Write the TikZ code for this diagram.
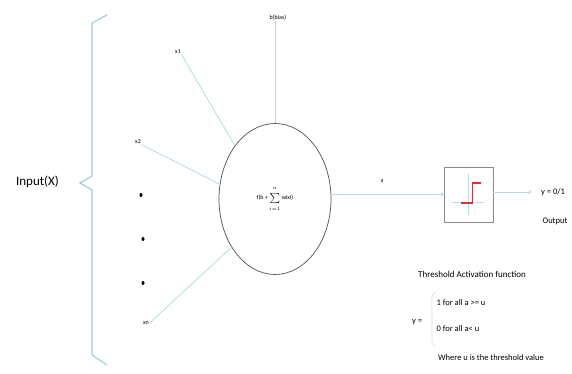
\documentclass[tikz,border=0pt]{standalone}
\usepackage{fontspec}
\setmainfont{Carlito}
\usetikzlibrary{shapes.geometric,arrows.meta}
\definecolor{bracecol}{HTML}{9FCFDC}
\definecolor{conn}{HTML}{B5DDE5}
\definecolor{ellcol}{HTML}{505050}
\definecolor{stepred}{HTML}{E0303C}
\definecolor{boxcol}{HTML}{8A8A8A}
\tikzset{
  lbl/.style={font=\fontsize{6}{7}\selectfont, inner sep=0.5pt},
  txt/.style={font=\fontsize{8.5}{10}\selectfont, inner sep=0.5pt},
  connector/.style={draw=conn, line width=0.8pt},
  arrowconn/.style={connector, -{To[length=3pt,width=4.5pt]}},
  neuron/.style={ellipse, draw=ellcol, line width=0.7pt, minimum width=112pt, minimum height=151pt, inner sep=0pt, font=\fontsize{6}{7}\selectfont},
  actbox/.style={draw=boxcol, line width=0.8pt, minimum width=49pt, minimum height=55pt, inner sep=0pt},
  idot/.style={ellipse, fill=black, inner sep=0pt, minimum width=3pt, minimum height=4pt},
  bracestyle/.style={draw=bracecol, line width=1.2pt, line join=miter},
}
\begin{document}
\begin{tikzpicture}[x=1pt,y=-1pt]
\fill[white] (0,0) rectangle (572,374);
\useasboundingbox (0,0) rectangle (572,374);

% input brace
\draw[bracestyle] (107,15) -- (92,23) -- (92,176) -- (80,183) -- (92,190) -- (92,355) -- (107,365);
\node[font=\fontsize{13}{15}\selectfont, inner sep=0pt] (inp) at (37.5,182) {Input(X)};

% neuron
\node[neuron] (e) at (275,199) {f(b + $\sum\limits_{\raisebox{-1.5pt}{$\scriptscriptstyle i=1$}}^{\raisebox{1.5pt}{$\scriptscriptstyle n$}}$ wixi)};

% inputs
\node[lbl] (b) at (278,18) {b(bias)};
\node[lbl] (x1) at (178,52) {x1};
\node[lbl] (x2) at (138,142) {x2};
\node[lbl] (xn) at (146,323) {xn};
\node[idot] (d1) at (141,195) {};
\node[idot] (d2) at (143,239) {};
\node[idot] (d3) at (143,283) {};

\draw[connector] (b.south -| e.north) -- (e.north);
\draw[connector] (x1.south east) -- (e.127);
\draw[connector] (x2.south east) -- (e.165);
\draw[connector] (xn.east) -- (e.228);

% activation box
\node[actbox] (box) at (468.5,194.5) {};
\draw[draw=conn, line width=0.6pt] (452,202) -- (484,202);
\draw[draw=conn, line width=0.6pt] (468,174) -- (468,215);
\draw[draw=stepred, line width=1.6pt] (461,203) -- (472.5,203) -- (472.5,183) -- (481,183);

\node[lbl] (a) at (382,181) {a};
\draw[arrowconn] (e.east |- box.west) -- (box.west);

\node[txt] (y) at (553,192) {y = 0/1};
\draw[arrowconn, shorten >=9pt] (box.east |- y.west) -- (y.west);
\node[txt] (out) at (555,221) {Output};

% threshold description
\node[txt, font=\fontsize{9}{10}\selectfont] (thr) at (472,274) {Threshold Activation function};
\node[txt] (yeq) at (417,322) {y =};
\node[txt, anchor=west] (c1) at (436,303) {1 for all a >= u};
\node[txt, anchor=west] (c0) at (436,329) {0 for all a< u};
\node[txt] (where) at (491,358) {Where u is the threshold value};
\draw[draw=black!12, line width=0.8pt] (435,292) -- (432,296) -- (432,343) -- (435,347);
\end{tikzpicture}
\end{document}
